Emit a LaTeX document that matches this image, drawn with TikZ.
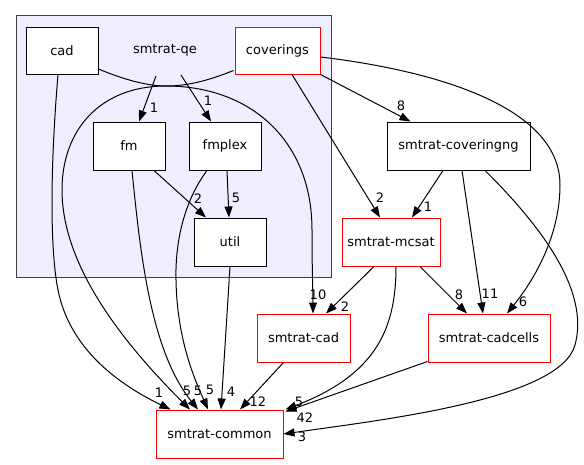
\documentclass[tikz,border=0pt]{standalone}
\usepackage{fontspec}
\setmainfont{DejaVu Sans}
\usetikzlibrary{arrows.meta,calc}
\definecolor{clusterfill}{RGB}{238,238,255}
\definecolor{clusterdraw}{RGB}{64,64,64}
\begin{document}
\begin{tikzpicture}[x=1pt,y=-1pt,
  box/.style={draw=black,fill=white,line width=1pt,inner sep=0pt,font=\fontsize{13}{15}\selectfont},
  redbox/.style={box,draw=red},
  lbl/.style={inner sep=0pt,font=\fontsize{13}{15}\selectfont},
  edge/.style={line width=1pt,-{Triangle[length=11pt,width=8pt]}},
]
\path[use as bounding box] (0,0) rectangle (584,464);

% cluster
\node[draw=clusterdraw,fill=clusterfill,line width=1pt,minimum width=315pt,minimum height=262pt,inner sep=0pt] (cluster) at (173.5,146) {};

% nodes
\node[box,minimum width=72pt,minimum height=47pt] (cad) at (62,50.5) {cad};
\node[lbl] (qe) at (165,50) {smtrat-qe};
\node[redbox,minimum width=85pt,minimum height=47pt] (cov) at (277.5,50.5) {coverings};
\node[box,minimum width=72pt,minimum height=48pt] (fm) at (129,146) {fm};
\node[box,minimum width=72pt,minimum height=48pt] (fmplex) at (225,146) {fmplex};
\node[box,minimum width=72pt,minimum height=48pt] (util) at (230,242) {util};
\node[box,minimum width=143pt,minimum height=48pt] (ng) at (458.5,146) {smtrat-coveringng};
\node[redbox,minimum width=98pt,minimum height=48pt] (mcsat) at (391,242) {smtrat-mcsat};
\node[redbox,minimum width=93pt,minimum height=48pt] (scad) at (303.5,338) {smtrat-cad};
\node[redbox,minimum width=122pt,minimum height=48pt] (cells) at (489,338) {smtrat-cadcells};
\node[redbox,minimum width=127pt,minimum height=48pt] (common) at (219.5,434) {smtrat-common};

% edges
\draw[edge] ($(qe)+(-9,26)$) -- ($(fm.north)+(10,0)$);
\draw[edge] ($(qe)+(16,25)$) -- ($(fmplex.north)+(-14,0)$);
\draw[edge] ($(fm.south)+(25,0)$) -- ($(util.north)+(-24,0)$);
\draw[edge] ($(fmplex.south)+(2,0)$) -- ($(util.north)+(-1,0)$);
\draw[edge] (util.south) -- ($(common.north)+(1.5,0)$);
\draw[edge] ($(scad.south)+(-20,0)$) -- ($(common.north)+(20.5,0)$);
\draw[edge] ($(cad.south)+(-4,0)$) .. controls (50,170) and (50,250) .. (58,290)
  .. controls (70,350) and (120,385) .. ($(common.north)+(-49,0)$);
\draw[edge] ($(cov.south west)+(-1,-4)$) .. controls (205,82) and (185,86) .. (166,86)
  .. controls (100,86) and (62,130) .. (62,190)
  .. controls (62,250) and (100,320) .. ($(common.north)+(-29.5,0)$);
\draw[edge] ($(fm.south)+(3,0)$) .. controls (140,250) and (150,350) .. ($(common.north)+(-21.5,0)$);
\draw[edge] ($(fmplex.south)+(-18,0)$) .. controls (185,200) and (175,240) .. (176,280)
  .. controls (177,340) and (195,380) .. ($(common.north)+(-11.5,0)$);
\draw[edge] ($(cad.east)+(0,18.5)$) .. controls (120,78) and (145,86) .. (166,86)
  .. controls (250,86) and (312,140) .. (312,230)
  .. controls (312,270) and (313,295) .. ($(scad.north)+(9.5,0)$);
\draw[edge] (cov.south east) -- ($(ng.north)+(-48,0)$);
\draw[edge] ($(cov.south)+(14.5,0)$) -- ($(mcsat.north)+(-11,0)$);
\draw[edge] ($(cov.east)+(0,6.5)$) .. controls (430,70) and (560,105) .. (560,185)
  .. controls (560,240) and (530,285) .. ($(cells.north)+(18,0)$);
\draw[edge] ($(ng.south)+(-15.5,0)$) -- ($(mcsat.north)+(21,0)$);
\draw[edge] ($(ng.south)+(3.5,0)$) -- ($(cells.north)+(-6,0)$);
\draw[edge] ($(ng.south)+(26.5,0)$) .. controls (540,225) and (590,290) .. (575,345)
  .. controls (560,400) and (380,420) .. (common.east);
\draw[edge] ($(mcsat.south)+(-17,0)$) -- ($(scad.north)+(22.5,0)$);
\draw[edge] ($(mcsat.south)+(29,0)$) -- ($(cells.north)+(-22,0)$);
\draw[edge] ($(mcsat.south)+(5,0)$) .. controls (396,330) and (375,375) .. ($(common.north east)+(2,0)$);
\draw[edge] ($(cells.south west)+(0,-1)$) -- ($(common.north east)+(2,2)$);

% edge labels
\node[lbl] (l1) at (154,108) {1};
\node[lbl] (l2) at (208,101) {1};
\node[lbl] (l3) at (198,199) {2};
\node[lbl] (l4) at (236,198) {5};
\node[lbl] (l5) at (159,393) {1};
\node[lbl] (l6) at (187,391) {5};
\node[lbl] (l7) at (198,391) {5};
\node[lbl] (l8) at (210,390) {5};
\node[lbl] (l9) at (231,392) {4};
\node[lbl] (l10) at (258,402) {12};
\node[lbl] (l11) at (318,295) {10};
\node[lbl] (l12) at (401,106) {8};
\node[lbl] (l13) at (380,198) {2};
\node[lbl] (l14) at (428,207) {1};
\node[lbl] (l15) at (523,302) {6};
\node[lbl] (l16) at (490,294) {11};
\node[lbl] (l17) at (459,295) {8};
\node[lbl] (l18) at (345,307) {2};
\node[lbl] (l19) at (299,402) {5};
\node[lbl] (l20) at (305,418) {42};
\node[lbl] (l21) at (302,437) {3};
\end{tikzpicture}
\end{document}
